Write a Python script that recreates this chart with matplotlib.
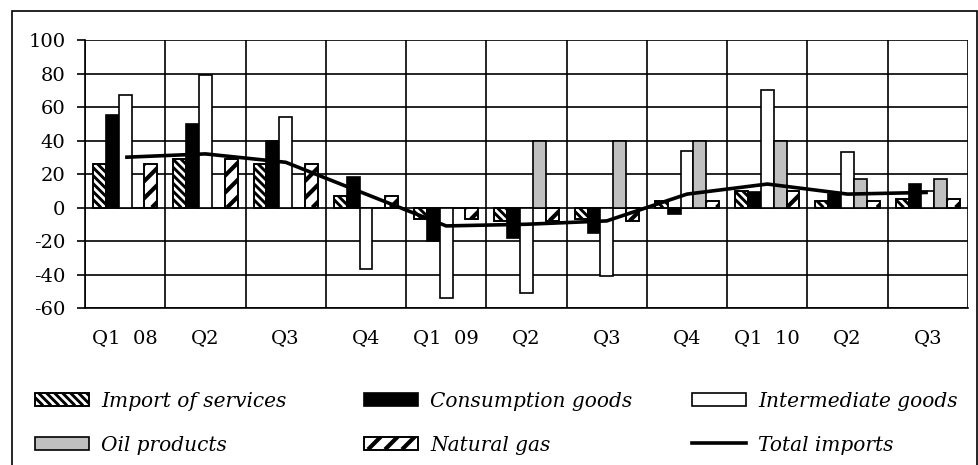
import matplotlib
matplotlib.use("Agg")
import matplotlib.pyplot as plt
import numpy as np
from matplotlib.patches import Rectangle
from matplotlib.lines import Line2D
from matplotlib.collections import LineCollection
from matplotlib.transforms import IdentityTransform

# Quarterly contributions to import growth (percentage points)
quarters = ["Q1  08", "Q2", "Q3", "Q4", "Q1  09", "Q2", "Q3", "Q4", "Q1  10", "Q2", "Q3"]
services = [26, 29, 26, 7, -7, -8, -7, 4, 10, 4, 5]
consumption = [55, 50, 40, 18, -20, -18, -15, -4, 9, 8, 14]
intermediate = [67, 79, 54, -37, -54, -51, -41, 34, 70, 33, 10]
oil = [0, 0, 0, 0, 0, 40, 40, 40, 40, 17, 17]
gas = [26, 29, 26, 7, -7, -8, -8, 4, 10, 4, 5]
total = [30, 32, 27, 8, -11, -10, -8, 8, 14, 8, 9]

y_ticks = [-60, -40, -20, 0, 20, 40, 60, 80, 100]

plt.rcParams["font.family"] = ["DejaVu Serif"]
plt.rcParams["axes.unicode_minus"] = False

W, H = 979, 465
fig = plt.figure(figsize=(W / 100, H / 100), dpi=100)
ax = fig.add_axes([85 / W, 1 - 308 / H, (968 - 85) / W, (308 - 40) / H])

x = np.arange(len(quarters))
bw = 1 / 6.25
edge_lw = 1.2

ax.set_xlim(-0.5, len(quarters) - 0.5)
ax.set_ylim(-60, 100)


def add_stripes(patch, spacing, lw, slope, zorder, in_axes=True):
    """Fill a rectangle with diagonal stripes drawn in pixel space and clipped to it."""
    bb = patch.get_window_extent()
    x0, x1, y0, y1 = bb.x0, bb.x1, bb.y0, bb.y1
    span = (y1 - y0) / abs(slope)
    segs = []
    c = x0 - span - spacing
    while c < x1 + span + spacing:
        if slope > 0:  # rising to the right
            segs.append([(c, y0), (c + span, y1)])
        else:          # falling to the right
            segs.append([(c, y1), (c + span, y0)])
        c += spacing
    lc = LineCollection(segs, colors="black", linewidths=lw, transform=IdentityTransform(),
                        zorder=zorder, capstyle="butt")
    outline = Rectangle((x0, y0), x1 - x0, y1 - y0, transform=IdentityTransform(),
                        fill=False, edgecolor="black", linewidth=edge_lw, zorder=zorder + 0.01)
    if in_axes:
        ax.add_collection(lc, autolim=False)
        ax.add_artist(outline)
    else:
        fig.add_artist(lc)
        fig.add_artist(outline)
    lc.set_clip_path(patch)
    outline.set_clip_on(False)


# (name, values, face colour, stripes: (spacing px, line width pt, slope))
series = [
    ("Import of services", services, "white", (8.0, 2.1, -1.0)),
    ("Consumption goods", consumption, "black", None),
    ("Intermediate goods", intermediate, "white", None),
    ("Oil products", oil, "#c0c0c0", None),
    ("Natural gas", gas, "white", (17.0, 3.0, 1.0)),
]

for i, (name, vals, face, stripes) in enumerate(series):
    bars = ax.bar(x + (i - 2) * bw, vals, width=bw, facecolor=face, edgecolor="black",
                  linewidth=edge_lw, zorder=3)
    if stripes:
        for b in bars:
            if b.get_height() != 0:
                add_stripes(b, *stripes, zorder=3.2)

ax.plot(x, total, color="black", linewidth=2.6, zorder=4, solid_capstyle="butt")

ax.set_yticks(y_ticks)
ax.set_yticklabels([str(v) for v in y_ticks])
ax.set_xticks(x)
ax.set_xticklabels(quarters)
ax.set_xticks(np.arange(len(quarters) + 1) - 0.5, minor=True)
ax.tick_params(axis="x", which="both", length=0, labelsize=14, pad=15)
ax.tick_params(axis="y", length=6, width=1.2, labelsize=14, pad=8, direction="out")
ax.grid(axis="y", color="black", linewidth=1.2, zorder=0)
ax.grid(axis="x", which="minor", color="black", linewidth=1.2, zorder=0)
ax.set_axisbelow(True)
for s in ax.spines.values():
    s.set_linewidth(1.2)
ax.spines["top"].set_visible(False)
ax.spines["right"].set_visible(False)

# Legend: three columns of two entries, keys drawn in pixel coordinates
legend_items = [series[0], series[1], series[2], series[3], series[4], ("Total imports", None, None, None)]
col_x = [35, 364, 692]
row_y = [399, 443]
key_w, key_h = 54, 13
for k, (name, _, face, stripes) in enumerate(legend_items):
    cx = col_x[k % 3]
    cy = H - row_y[k // 3]
    if face is None:
        fig.add_artist(Line2D([cx, cx + key_w], [cy, cy], color="black", linewidth=2.6,
                              transform=IdentityTransform()))
    else:
        key = Rectangle((cx, cy - key_h / 2), key_w, key_h, facecolor=face, edgecolor="black",
                        linewidth=edge_lw, transform=IdentityTransform())
        fig.add_artist(key)
        if stripes:
            add_stripes(key, *stripes, zorder=2.5, in_axes=False)
    fig.text((cx + key_w + 12) / W, cy / H, name, ha="left", va="center_baseline",
             fontsize=14.5, style="italic", family="DejaVu Serif")

# Outer frame
fig.add_artist(Rectangle((12 / W, -0.05), (977 - 12) / W, 1.05 - 11 / H,
                         transform=fig.transFigure, fill=False, edgecolor="black",
                         linewidth=1.2, clip_on=False))

fig.savefig("out.png", dpi=100)
